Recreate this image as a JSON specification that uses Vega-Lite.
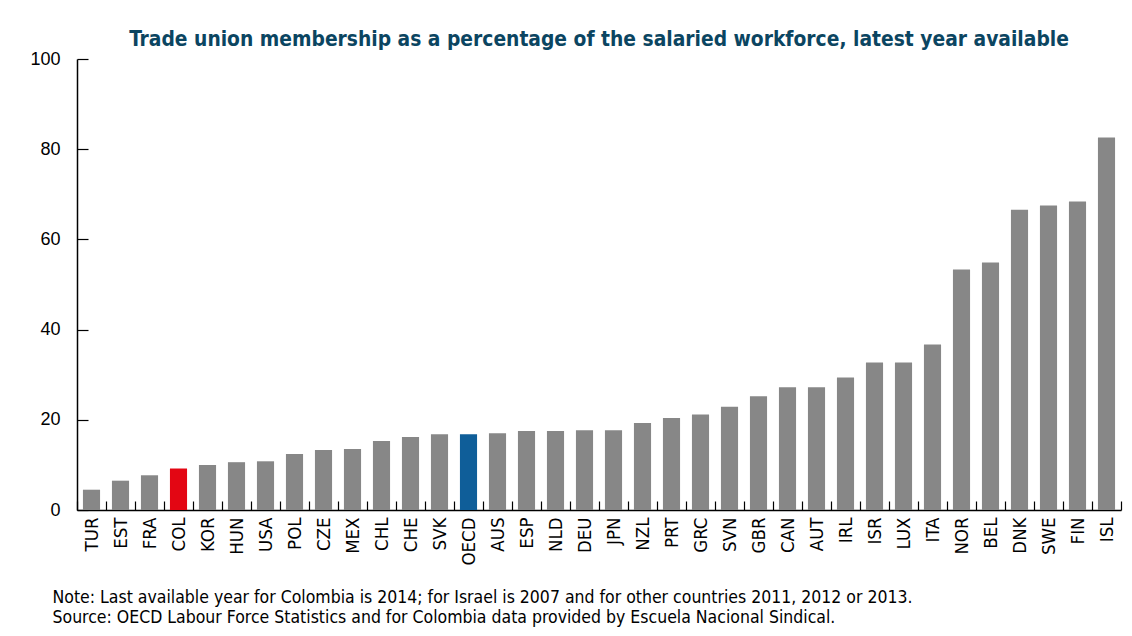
{
  "$schema": "https://vega.github.io/schema/vega-lite/v6.json",
  "autosize": {"type": "none"},
  "width": 1044,
  "height": 451,
  "padding": {"left": 77, "top": 59, "right": 11, "bottom": 126},
  "background": "white",
  "title": {
    "text": "Trade union membership as a percentage of the salaried workforce, latest year available",
    "font": "'Liberation Sans Narrow', 'Arial Narrow', 'DejaVu Sans Condensed', Roboto, sans-serif",
    "fontWeight": "bold",
    "fontSize": 20.8,
    "color": "#0B4561",
    "anchor": "middle",
    "offset": -1
  },
  "data": {
    "values": [
      {"country": "TUR", "value": 4.5, "group": "country"},
      {"country": "EST", "value": 6.5, "group": "country"},
      {"country": "FRA", "value": 7.7, "group": "country"},
      {"country": "COL", "value": 9.2, "group": "Colombia"},
      {"country": "KOR", "value": 10.0, "group": "country"},
      {"country": "HUN", "value": 10.6, "group": "country"},
      {"country": "USA", "value": 10.8, "group": "country"},
      {"country": "POL", "value": 12.4, "group": "country"},
      {"country": "CZE", "value": 13.3, "group": "country"},
      {"country": "MEX", "value": 13.5, "group": "country"},
      {"country": "CHL", "value": 15.3, "group": "country"},
      {"country": "CHE", "value": 16.2, "group": "country"},
      {"country": "SVK", "value": 16.8, "group": "country"},
      {"country": "OECD", "value": 16.8, "group": "OECD"},
      {"country": "AUS", "value": 17.0, "group": "country"},
      {"country": "ESP", "value": 17.5, "group": "country"},
      {"country": "NLD", "value": 17.5, "group": "country"},
      {"country": "DEU", "value": 17.7, "group": "country"},
      {"country": "JPN", "value": 17.7, "group": "country"},
      {"country": "NZL", "value": 19.3, "group": "country"},
      {"country": "PRT", "value": 20.4, "group": "country"},
      {"country": "GRC", "value": 21.2, "group": "country"},
      {"country": "SVN", "value": 22.9, "group": "country"},
      {"country": "GBR", "value": 25.2, "group": "country"},
      {"country": "CAN", "value": 27.2, "group": "country"},
      {"country": "AUT", "value": 27.2, "group": "country"},
      {"country": "IRL", "value": 29.4, "group": "country"},
      {"country": "ISR", "value": 32.7, "group": "country"},
      {"country": "LUX", "value": 32.7, "group": "country"},
      {"country": "ITA", "value": 36.7, "group": "country"},
      {"country": "NOR", "value": 53.3, "group": "country"},
      {"country": "BEL", "value": 54.9, "group": "country"},
      {"country": "DNK", "value": 66.6, "group": "country"},
      {"country": "SWE", "value": 67.5, "group": "country"},
      {"country": "FIN", "value": 68.4, "group": "country"},
      {"country": "ISL", "value": 82.6, "group": "country"}
    ]
  },
  "mark": {"type": "bar", "width": {"band": 0.59}},
  "encoding": {
    "x": {
      "field": "country",
      "type": "nominal",
      "sort": null,
      "scale": {"paddingInner": 0, "paddingOuter": 0},
      "axis": {
        "title": ["Note: Last available year for Colombia is 2014; for Israel is 2007 and for other countries 2011, 2012 or 2013.", "Source: OECD Labour Force Statistics and for Colombia data provided by Escuela Nacional Sindical."],
        "titleFont": "'Liberation Sans Narrow', 'Arial Narrow', 'DejaVu Sans Condensed', Roboto, sans-serif",
        "titleFontSize": 17.5,
        "titleFontWeight": "normal",
        "titleColor": "black",
        "titleAnchor": "start",
        "titleAlign": "left",
        "titleBaseline": "top",
        "titleX": -25,
        "titleY": 78,
        "titleLineHeight": 20,
        "labelAngle": -90,
        "labelFont": "'Liberation Sans Narrow', 'Arial Narrow', 'DejaVu Sans Condensed', Roboto, sans-serif",
        "labelFontSize": 18.5,
        "labelColor": "black",
        "labelPadding": 16,
        "labelBaseline": "middle",
        "labelAlign": "right",
        "tickBand": "extent",
        "tickSize": -9,
        "tickColor": "black",
        "tickWidth": 1.2,
        "domainColor": "black",
        "domainWidth": 1.5,
        "grid": false
      }
    },
    "y": {
      "field": "value",
      "type": "quantitative",
      "scale": {"domain": [0, 100]},
      "axis": {
        "title": null,
        "values": [0, 20, 40, 60, 80, 100],
        "labelFont": "Liberation Sans",
        "labelFontSize": 18,
        "labelColor": "black",
        "labelPadding": 28,
        "tickSize": -11,
        "tickColor": "black",
        "tickWidth": 1.2,
        "domainColor": "black",
        "domainWidth": 1.5,
        "grid": false
      }
    },
    "color": {
      "field": "group",
      "type": "nominal",
      "scale": {"domain": ["country", "Colombia", "OECD"], "range": ["#878787", "#E30613", "#0F5E99"]},
      "legend": null
    }
  },
  "config": {"view": {"stroke": null}}
}
